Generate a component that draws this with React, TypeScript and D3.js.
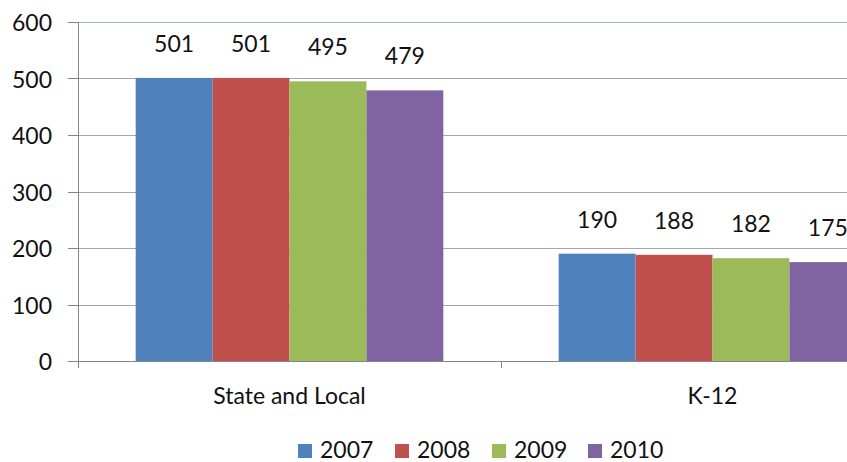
import React from "react";
import * as d3 from "d3";

const categories = ["State and Local", "K-12"];
const years = ["2007", "2008", "2009", "2010"];
const values2007 = [501, 190];
const values2008 = [501, 188];
const values2009 = [495, 182];
const values2010 = [479, 175];
const yTicks = [0, 100, 200, 300, 400, 500, 600];
const colors = ["#4f81bd", "#c0504d", "#9bbb59", "#8064a2"];

const W = 847;
const H = 462;
const FONT = "Lato, 'Open Sans', sans-serif";
const FS = 23;

export default function App() {
  const series = [values2007, values2008, values2009, values2010];
  const x0 = d3.scaleBand<string>().domain(categories).range([78, 924]).paddingInner(0).paddingOuter(0);
  const x1 = d3.scaleBand<string>().domain(years).range([0, x0.bandwidth()]).paddingInner(0).paddingOuter(0.75);
  const y = d3.scaleLinear().domain([0, 600]).range([361, 22]);

  const legendX = [298, 395, 492, 588];

  return (
    <svg width={W} height={H} style={{ position: "absolute", left: 0, top: 0, background: "#fff" }}>
      {yTicks.map((t) => (
        <line
          key={"g" + t}
          x1={78}
          x2={W}
          y1={Math.round(y(t)) + 0.5}
          y2={Math.round(y(t)) + 0.5}
          stroke={t === 600 ? "#95b3d7" : "#a6a6a6"}
          strokeWidth={1}
        />
      ))}
      {categories.map((c, ci) =>
        years.map((yr, si) => {
          const v = series[si][ci];
          return (
            <rect
              key={c + yr}
              x={(x0(c) as number) + (x1(yr) as number)}
              y={y(v)}
              width={x1.bandwidth()}
              height={y(0) - y(v)}
              fill={colors[si]}
            />
          );
        })
      )}
      <line x1={78.5} x2={78.5} y1={22} y2={368} stroke="#868686" />
      {yTicks.map((t) => (
        <g key={"t" + t}>
          <line x1={68} x2={78} y1={Math.round(y(t)) + 0.5} y2={Math.round(y(t)) + 0.5} stroke="#868686" />
          <text
            x={52}
            y={y(t)}
            textAnchor="end"
            dominantBaseline="central"
            fontFamily={FONT}
            fontSize={FS}
            fill="#111"
          >
            {t}
          </text>
        </g>
      ))}
      <line x1={78} x2={W} y1={361.5} y2={361.5} stroke="#868686" />
      {[78, 501].map((xv) => (
        <line key={"xt" + xv} x1={xv + 0.5} x2={xv + 0.5} y1={361} y2={368} stroke="#868686" />
      ))}
      {categories.map((c) => (
        <text
          key={"cl" + c}
          x={(x0(c) as number) + x0.bandwidth() / 2}
          y={404}
          textAnchor="middle"
          fontFamily={FONT}
          fontSize={FS}
          fill="#111"
        >
          {c}
        </text>
      ))}
      {categories.map((c, ci) =>
        years.map((yr, si) => {
          const v = series[si][ci];
          return (
            <text
              key={"dl" + c + yr}
              x={(x0(c) as number) + (x1(yr) as number) + x1.bandwidth() / 2}
              y={y(v) - 26}
              textAnchor="middle"
              fontFamily={FONT}
              fontSize={FS}
              fill="#111"
            >
              {v}
            </text>
          );
        })
      )}
      {years.map((yr, i) => (
        <g key={"lg" + yr}>
          <rect x={legendX[i]} y={444} width={14} height={14} fill={colors[i]} />
          <text x={legendX[i] + 22} y={458} fontFamily={FONT} fontSize={FS} fill="#111">
            {yr}
          </text>
        </g>
      ))}
    </svg>
  );
}
